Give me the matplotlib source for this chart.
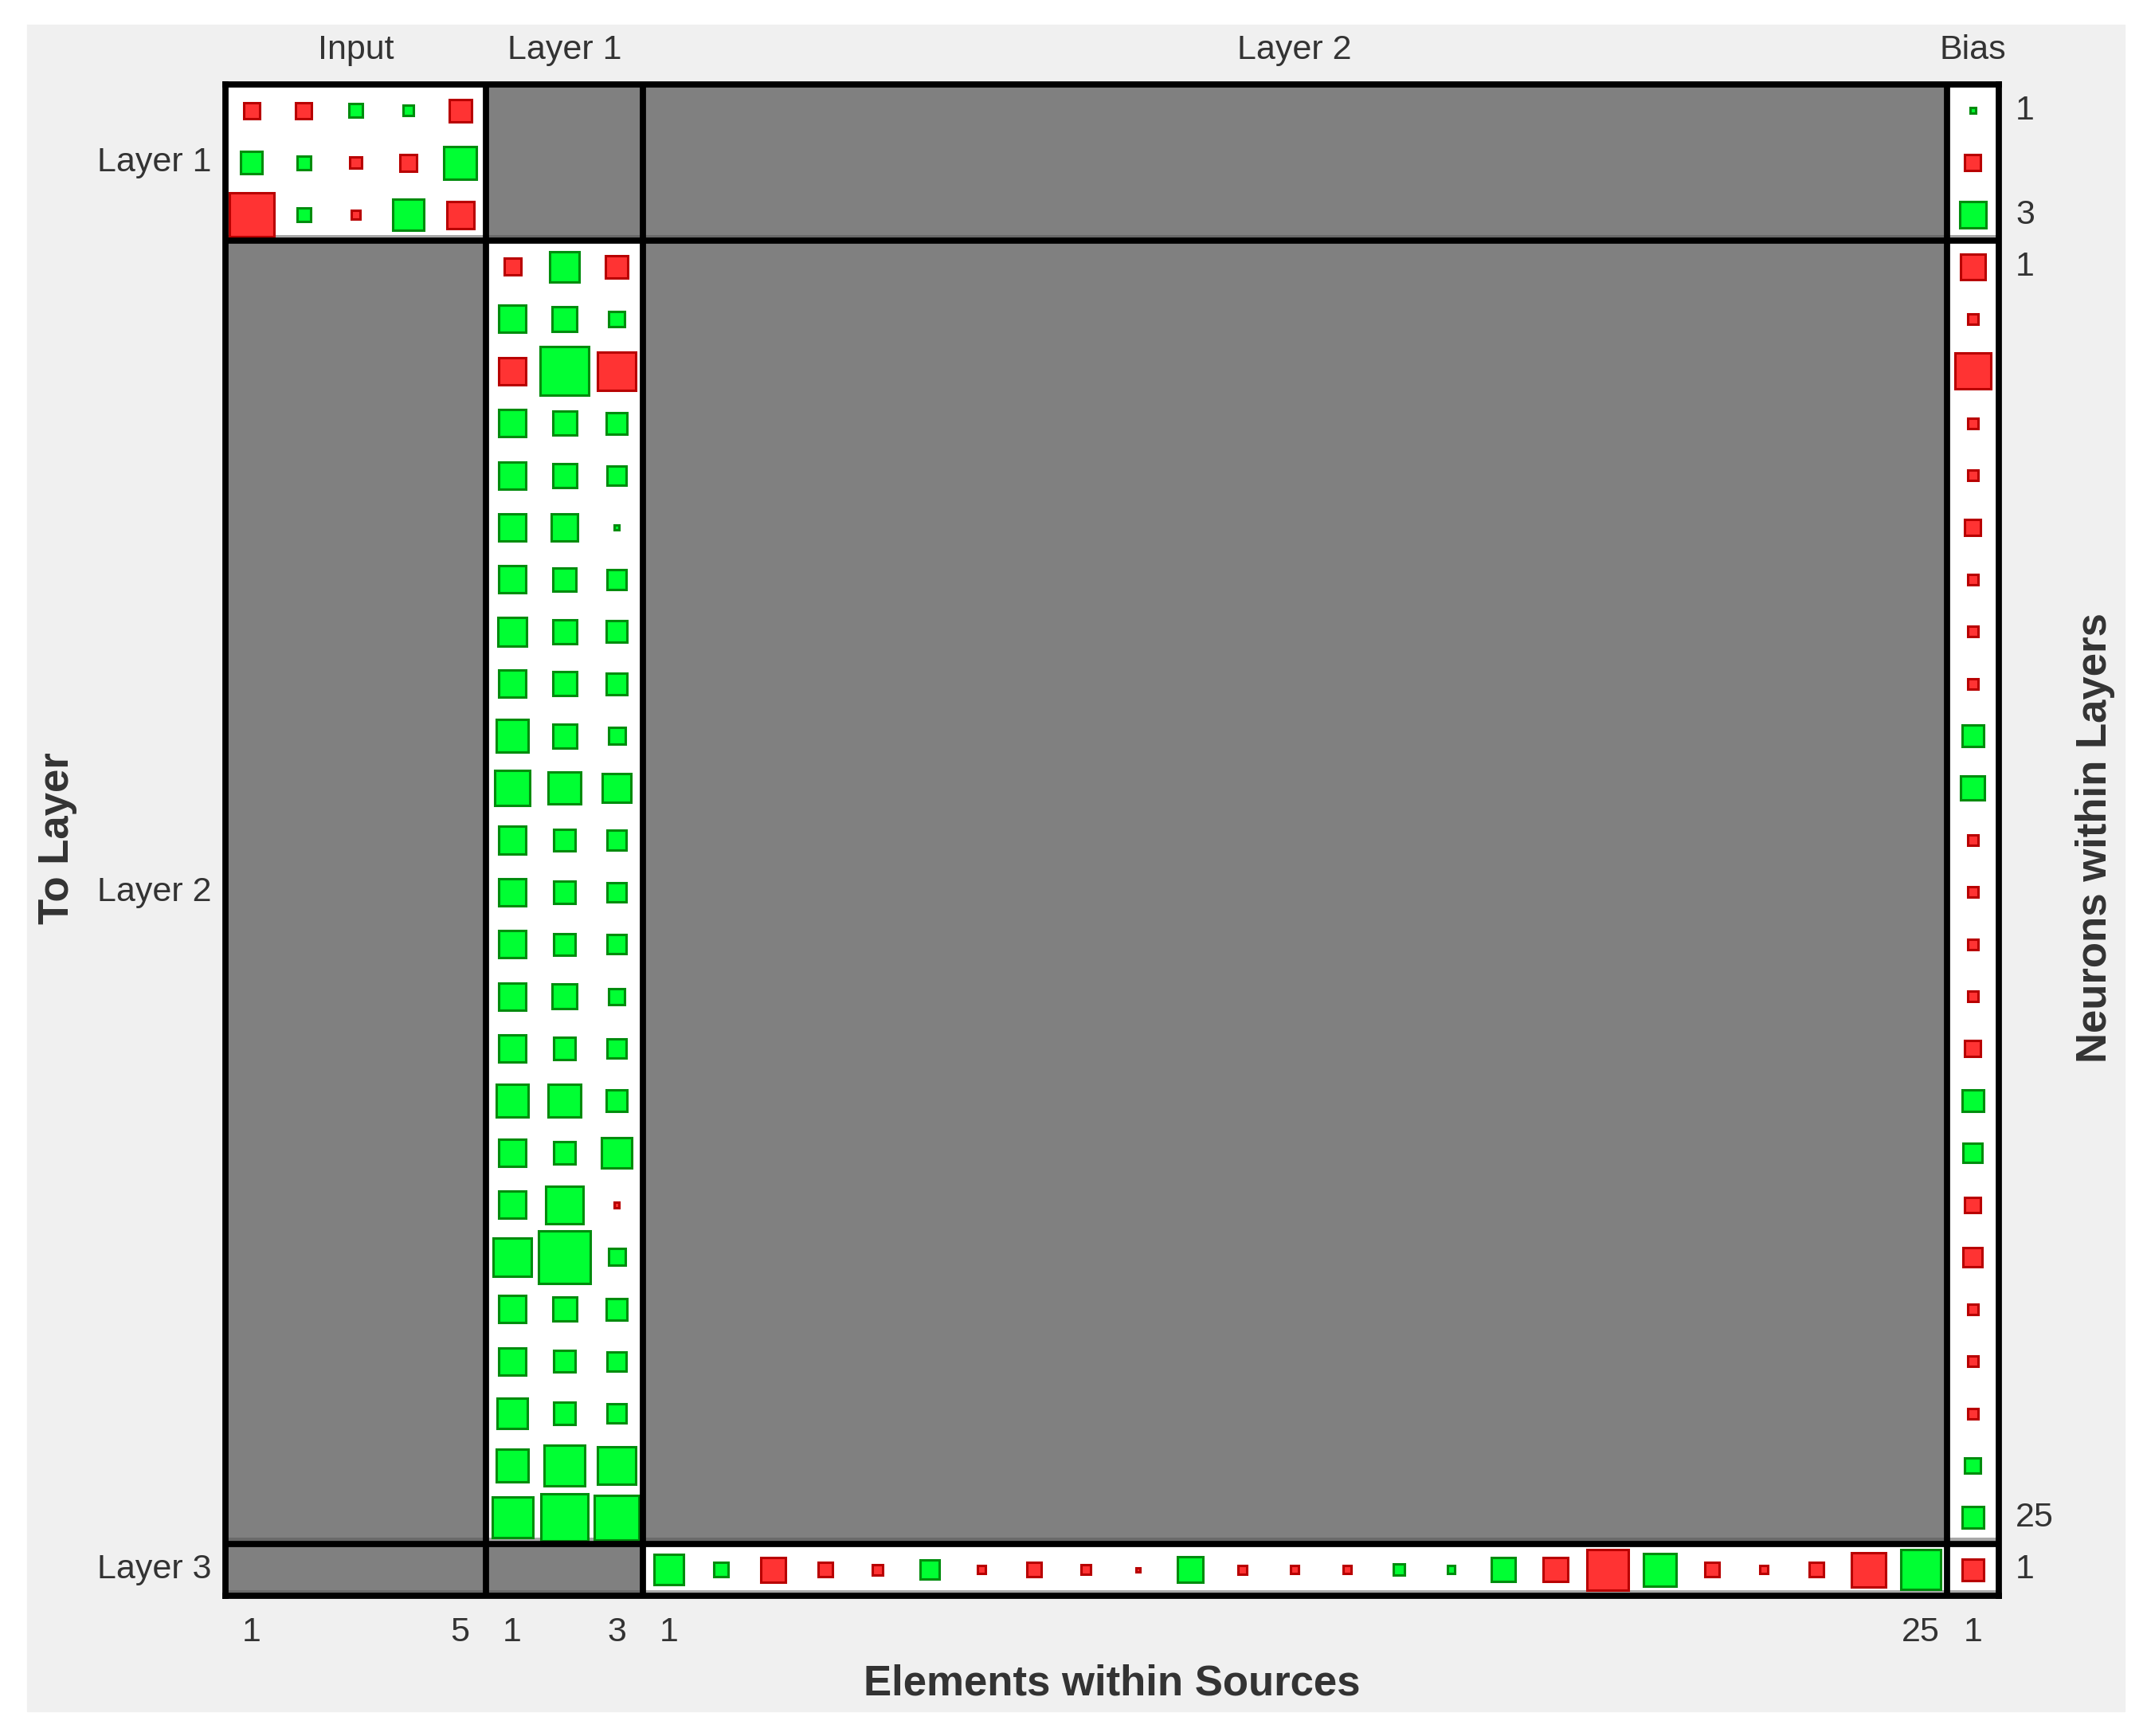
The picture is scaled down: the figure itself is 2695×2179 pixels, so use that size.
import matplotlib
matplotlib.use('Agg')
import matplotlib.pyplot as plt
from matplotlib.patches import Rectangle

plt.rcParams['font.family'] = ['Liberation Sans', 'DejaVu Sans']

# Hinton-style weight/bias diagram of a 5-3-25-1 network.
# values = signed box side as a fraction of one cell (+ green, - red)
IW_1_IN = [[-0.31, -0.31, 0.26, 0.20, -0.43],
           [0.42, 0.26, -0.22, -0.32, 0.63],
           [-0.85, 0.26, -0.16, 0.60, -0.52]]

LW_2_1 = [[-0.32, 0.57, -0.43],
          [0.52, 0.47, 0.30],
          [-0.52, 0.93, -0.73],
          [0.52, 0.46, 0.41],
          [0.52, 0.46, 0.37],
          [0.52, 0.51, 0.10],
          [0.52, 0.45, 0.37],
          [0.56, 0.46, 0.41],
          [0.52, 0.46, 0.41],
          [0.62, 0.46, 0.32],
          [0.66, 0.62, 0.56],
          [0.52, 0.42, 0.37],
          [0.52, 0.42, 0.37],
          [0.52, 0.42, 0.37],
          [0.52, 0.47, 0.30],
          [0.52, 0.42, 0.37],
          [0.62, 0.62, 0.41],
          [0.52, 0.42, 0.57],
          [0.52, 0.73, -0.10],
          [0.73, 1.00, 0.32],
          [0.52, 0.46, 0.41],
          [0.52, 0.42, 0.37],
          [0.57, 0.42, 0.37],
          [0.62, 0.78, 0.73],
          [0.78, 0.90, 0.86]]

LW_3_2 = [[0.58, 0.27, -0.47, -0.27, -0.19, 0.37, -0.15, -0.27, -0.18, -0.08,
           0.49, -0.16, -0.15, -0.15, 0.21, 0.15, 0.46, -0.46, -0.78, 0.62,
           -0.27, -0.15, -0.27, -0.66, 0.76]]

B1 = [0.10, -0.30, 0.51]
B2 = [-0.48, -0.20, -0.69, -0.20, -0.20, -0.30, -0.20, -0.20, -0.20, 0.41,
      0.46, -0.20, -0.20, -0.20, -0.20, -0.30, 0.41, 0.37, -0.30, -0.37,
      -0.20, -0.20, -0.20, 0.30, 0.41]
B3 = [-0.41]

SOURCES = ['Input', 'Layer 1', 'Layer 2', 'Bias']
SRC_N = [5, 3, 25, 1]
LAYERS = ['Layer 1', 'Layer 2', 'Layer 3']
LAYER_N = [3, 25, 1]

# (layer, source) -> matrix ; everything else is a gray (unused) block
BLOCKS = {
    (0, 0): IW_1_IN,
    (0, 3): [[b] for b in B1],
    (1, 1): LW_2_1,
    (1, 3): [[b] for b in B2],
    (2, 2): LW_3_2,
    (2, 3): [[b] for b in B3],
}

GREEN, GREEN_EDGE = (0.0, 1.0, 0.2), (0.0, 0.55, 0.05)
RED, RED_EDGE = (1.0, 0.2, 0.2), (0.72, 0.0, 0.0)
TXT = '0.2'
LW = 5.6

W, H = 2695, 2179
fig = plt.figure(figsize=(W / 100, H / 100), dpi=100, facecolor='white')
bg = Rectangle((34 / W, 1 - 2148 / H), 2633 / W, 2117 / H,
               transform=fig.transFigure, color='#f0f0f0', zorder=-10)
fig.add_artist(bg)

ax = fig.add_axes([283 / W, 1 - 2003 / H, 2226 / W, 1897 / H], zorder=5)
ncol, nrow = sum(SRC_N), sum(LAYER_N)
ax.set_xlim(0, ncol)
ax.set_ylim(nrow, 0)
ax.set_xticks([]); ax.set_yticks([])
for s in ax.spines.values():
    s.set_linewidth(LW); s.set_color('black'); s.set_zorder(10)

x0s = [sum(SRC_N[:i]) for i in range(len(SRC_N))]
y0s = [sum(LAYER_N[:i]) for i in range(len(LAYER_N))]

for li, (y0, nr) in enumerate(zip(y0s, LAYER_N)):
    for si, (x0, nc) in enumerate(zip(x0s, SRC_N)):
        mat = BLOCKS.get((li, si))
        ax.add_patch(Rectangle((x0, y0), nc, nr, facecolor='white' if mat else '#808080',
                               edgecolor='none', zorder=1))
        # faint shadow along the bottom of every block
        ax.add_patch(Rectangle((x0, y0 + nr - 0.11), nc, 0.05,
                               facecolor='#a8a8a8' if mat else '#6a6a6a',
                               edgecolor='none', zorder=1.5))
        if mat is None:
            continue
        for r, row in enumerate(mat):
            for c, v in enumerate(row):
                s = abs(v)
                fc, ec = (GREEN, GREEN_EDGE) if v > 0 else (RED, RED_EDGE)
                ax.add_patch(Rectangle((x0 + c + 0.5 - s / 2, y0 + r + 0.5 - s / 2), s, s,
                                       facecolor=fc, edgecolor=ec, lw=2.2, zorder=2))

# block separators
for x in x0s[1:]:
    ax.axvline(x, color='black', lw=LW, zorder=3)
for y in y0s[1:]:
    ax.axhline(y, color='black', lw=LW, zorder=3)

fs = 31
# source names on top, element numbers at bottom
for name, x0, nc in zip(SOURCES, x0s, SRC_N):
    ax.text(x0 + nc / 2, -0.66, name, ha='center', va='center', fontsize=fs, color=TXT, clip_on=False)
    ax.text(x0 + 0.5, nrow + 0.70, '1', ha='center', va='center', fontsize=fs, color=TXT, clip_on=False)
    if nc > 1:
        ax.text(x0 + nc - 0.5, nrow + 0.70, str(nc), ha='center', va='center', fontsize=fs,
                color=TXT, clip_on=False)

# layer names on the left, neuron numbers on the right
for name, y0, nr in zip(LAYERS, y0s, LAYER_N):
    ax.text(-0.26, y0 + nr / 2, name, ha='right', va='center', fontsize=fs, color=TXT, clip_on=False)
    ax.text(ncol + 0.32, y0 + 0.5, '1', ha='left', va='center', fontsize=fs, color=TXT, clip_on=False)
    if nr > 1:
        ax.text(ncol + 0.32, y0 + nr - 0.5, str(nr), ha='left', va='center', fontsize=fs,
                color=TXT, clip_on=False)

fig.text(1396 / W, 1 - 2114 / H, 'Elements within Sources', ha='center', va='center',
         fontsize=38, fontweight='bold', color=TXT)
fig.text(72 / W, 1 - 1052 / H, 'To Layer', ha='center', va='center', rotation=90,
         fontsize=38, fontweight='bold', color=TXT)
fig.text(2630 / W, 1 - 1052 / H, 'Neurons within Layers', ha='center', va='center', rotation=90,
         fontsize=38, fontweight='bold', color=TXT)

fig.savefig('out.png', dpi=100, facecolor='white')
